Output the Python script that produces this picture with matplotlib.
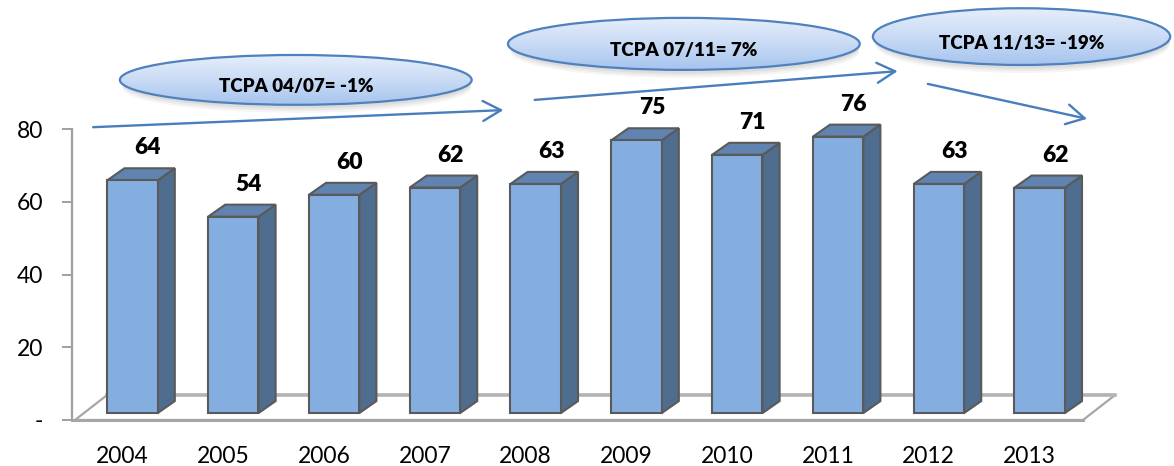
import numpy as np
import matplotlib
matplotlib.use("Agg")
import matplotlib.pyplot as plt
from matplotlib.patches import Polygon, Ellipse

plt.rcParams['font.family'] = ['Lato', 'DejaVu Sans']

# data
years = ['2004', '2005', '2006', '2007', '2008', '2009', '2010', '2011', '2012', '2013']
values = [64, 54, 60, 62, 63, 75, 71, 76, 63, 62]
ytick_vals = [0, 20, 40, 60, 80]
ytick_labels = ['-', '20', '40', '60', '80']
growth_labels = ['TCPA 04/07= -1%', 'TCPA 07/11= 7%', 'TCPA 11/13= -19%']

# colours
front_c = '#84aee0'
top_c = '#6083b0'
side_c = '#4f6d8f'
edge_c = '#5a5a5a'
arrow_c = '#4a7ebb'

W, H = 1174, 466
fig = plt.figure(figsize=(W / 100, H / 100), dpi=100)

# main axes: y axis line at x=72px, 0 at 420px, 80 at 129px (from top)
L, R, B, T = 72, 1080, 46, 337
ax = fig.add_axes([L / W, B / H, (R - L) / W, (T - B) / H])
ax.set_xlim(-0.5, 9.5)
ax.set_ylim(0, 80)
ax.patch.set_alpha(0)
for s in ['top', 'right', 'bottom']:
    ax.spines[s].set_visible(False)
ax.spines['left'].set_color('#a0a0a0')
ax.spines['left'].set_linewidth(1.6)
ax.set_yticks(ytick_vals)
ax.set_yticklabels(ytick_labels, fontsize=16.5)
ax.tick_params(axis='y', length=7, width=1.4, color='#a0a0a0', pad=14)
ax.set_xticks(range(len(years)))
ax.set_xticklabels(years, fontsize=16.5)
ax.tick_params(axis='x', length=0, pad=19)

# 3d-ish offsets (data units)
fdx, fdy = 0.32, 6.9      # floor depth
bx0, by0 = 0.10, 1.9      # bar front placement inside floor
bdx, bdy = 0.17, 3.3      # bar depth
hw = 0.25                 # half width

# floor
floor = Polygon([(-0.47, 0), (9.53, 0), (9.53 + fdx, fdy), (-0.47 + fdx, fdy)],
                closed=True, facecolor='white', edgecolor='#a6a6a6', lw=1.6,
                clip_on=False, zorder=1)
ax.add_patch(floor)
ax.plot([-0.47 + fdx, 9.53 + fdx], [fdy, fdy], color='#b4b4b4', lw=2.6,
        clip_on=False, zorder=1.1)
ax.plot([-0.5, 9.53], [0, 0], color='#a6a6a6', lw=2.2, clip_on=False, zorder=1.1)

for i, v in enumerate(values):
    x0 = i - hw + bx0
    x1 = i + hw + bx0
    y0 = by0
    y1 = by0 + v
    front = Polygon([(x0, y0), (x1, y0), (x1, y1), (x0, y1)], closed=True,
                    facecolor=front_c, edgecolor=edge_c, lw=1.5, zorder=3,
                    clip_on=False, joinstyle='miter')
    side = Polygon([(x1, y0), (x1 + bdx, y0 + bdy), (x1 + bdx, y1 + bdy), (x1, y1)],
                   closed=True, facecolor=side_c, edgecolor=edge_c, lw=1.5,
                   zorder=2.9, clip_on=False)
    top = Polygon([(x0, y1), (x1, y1), (x1 + bdx, y1 + bdy), (x0 + bdx, y1 + bdy)],
                  closed=True, facecolor=top_c, edgecolor=edge_c, lw=1.5,
                  zorder=2.9, clip_on=False)
    for p in (side, top, front):
        ax.add_patch(p)
    ax.text(i + bx0 + bdx * 0.9, y1 + bdy + 5.6, str(v), ha='center', va='center',
            fontsize=16.5, fontweight='heavy', color='black', zorder=5, clip_on=False)

# overlay axes with the same data coordinates over the whole figure
ov = fig.add_axes([0, 0, 1, 1])
xpu = (R - L) / 10.0
ypu = (T - B) / 80.0
ov.set_xlim(-0.5 - L / xpu, -0.5 + (W - L) / xpu)
ov.set_ylim(-B / ypu, (H - B) / ypu)
ov.axis('off')
ov.patch.set_alpha(0)

# ellipses (centre x, centre y, width, height) in data units
ell_cx = [1.72, 5.57, 8.92]
ell_cy = [93.5, 103.4, 105.4]
ell_w = [3.49, 3.49, 2.95]
ell_h = [13.7, 14.3, 15.6]

grad = np.linspace(0, 1, 256).reshape(-1, 1)
cmap = matplotlib.colors.LinearSegmentedColormap.from_list(
    'ell', ['#a6c4ee', '#c9dbf5', '#e6eefb'])

for cx, cy, w, h, lab in zip(ell_cx, ell_cy, ell_w, ell_h, growth_labels):
    # soft shadow
    for k, a in zip([2.2, 1.6, 1.0], [0.08, 0.10, 0.12]):
        sh = Ellipse((cx + 0.01, cy - k), w * 0.99, h, facecolor='#808080',
                     edgecolor='none', alpha=a, zorder=6)
        ov.add_patch(sh)
    e = Ellipse((cx, cy), w, h, facecolor='none', edgecolor='#4f81bd', lw=1.6,
                zorder=8)
    ov.add_patch(e)
    im = ov.imshow(grad, cmap=cmap, origin='lower', aspect='auto',
                   extent=[cx - w / 2, cx + w / 2, cy - h / 2, cy + h / 2],
                   zorder=7)
    im.set_clip_path(e)
    ov.text(cx, cy - 1.8, lab, ha='center', va='center', fontsize=13.5,
            fontweight='heavy', color='black', zorder=9)

# trend arrows (start -> end) in data units
arr_x0 = [-0.29, 4.09, 7.99]
arr_y0 = [80.5, 88.0, 92.4]
arr_x1 = [3.78, 7.69, 9.57]
arr_y1 = [85.2, 95.9, 82.8]
for xa, ya, xb, yb in zip(arr_x0, arr_y0, arr_x1, arr_y1):
    ov.annotate('', xy=(xb, yb), xytext=(xa, ya),
                arrowprops=dict(arrowstyle='->,head_length=0.65,head_width=0.36',
                                color=arrow_c, lw=1.7, shrinkA=0, shrinkB=0,
                                mutation_scale=20),
                zorder=6)

fig.savefig('out.png', dpi=100)
